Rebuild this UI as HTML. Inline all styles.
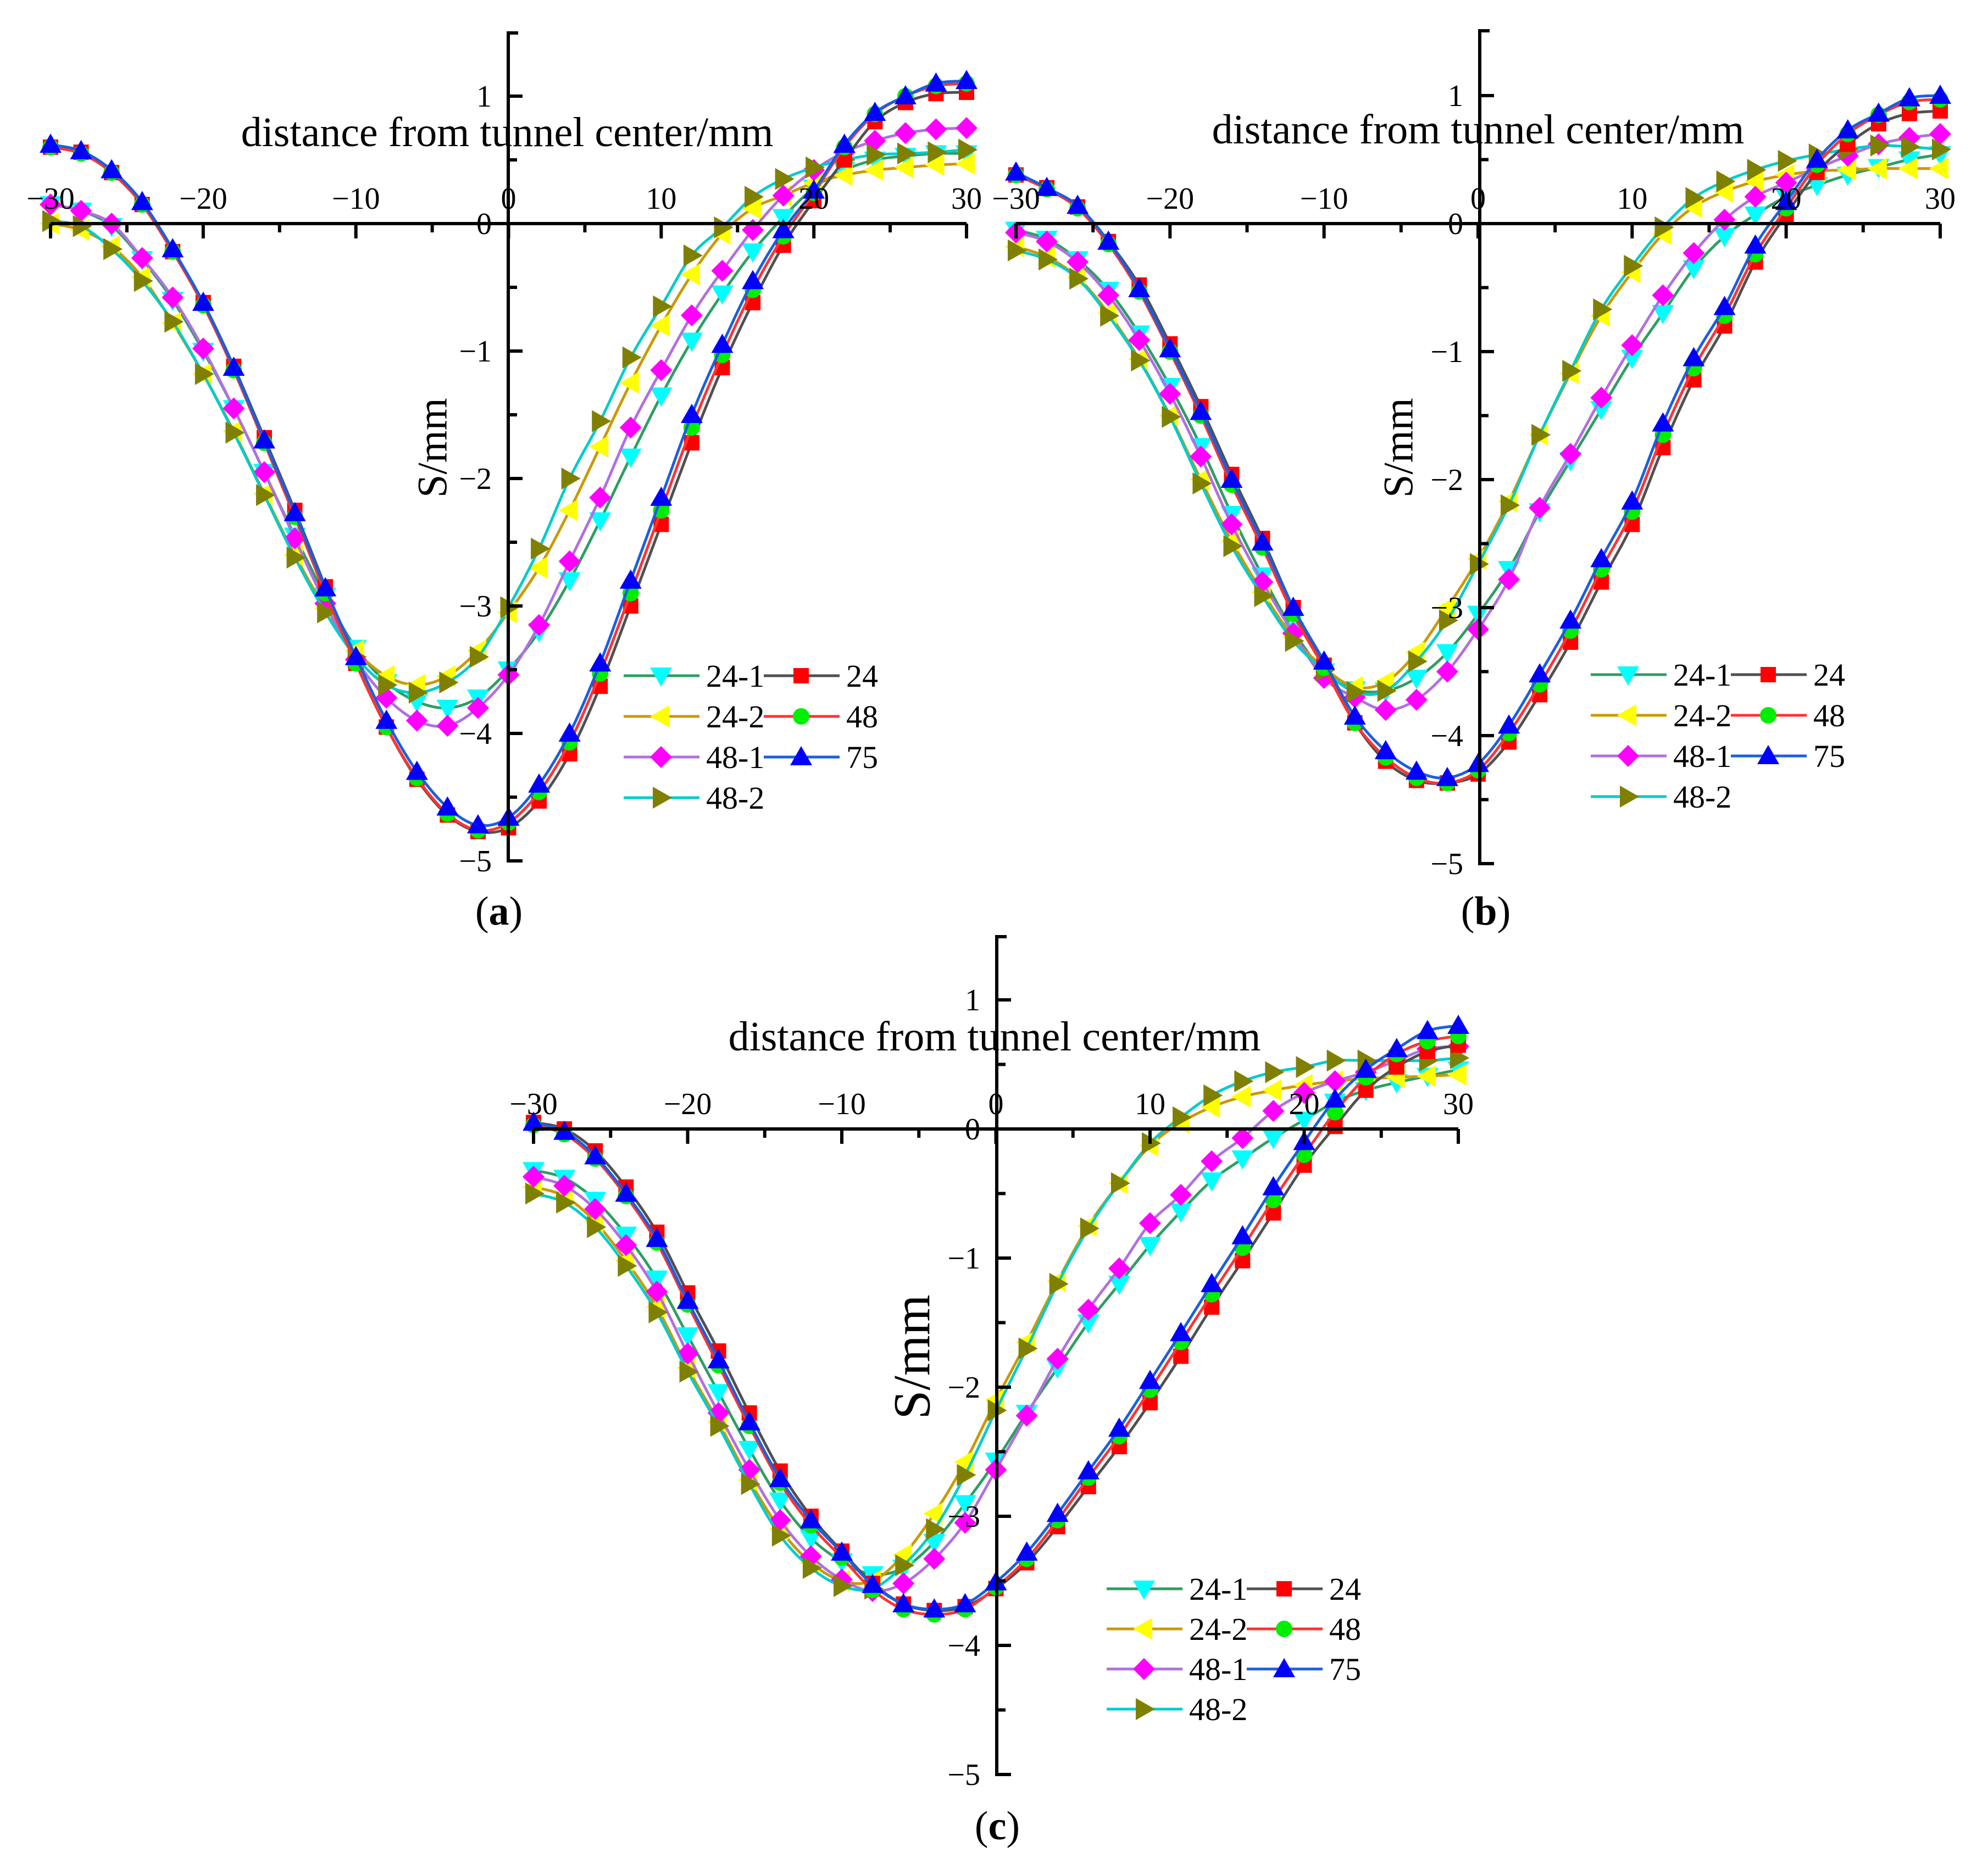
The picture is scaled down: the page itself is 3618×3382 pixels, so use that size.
<!DOCTYPE html>
<html><head><meta charset="utf-8">
<style>
html,body{margin:0;padding:0;background:#fff;}
svg{display:block;font-family:"Liberation Serif",serif;}
</style></head>
<body>
<svg id="fig" width="3618" height="3382" viewBox="0 0 3618 3382" xmlns="http://www.w3.org/2000/svg"></svg>
<script>
const xs = [-30,-28,-26,-24,-22,-20,-18,-16,-14,-12,-10,-8,-6,-4,-2,0,2,4,6,8,10,12,14,16,18,20,22,24,26,28,30];
const seriesNames = ["24-1","24-2","48-1","48-2","24","48","75"];
const xTicks = [-30,-20,-10,0,10,20,30];
const yTicks = [1,0,-1,-2,-3,-4,-5];

// panel (a)
const a_24_1 = [0.15,0.1,-0.02,-0.28,-0.6,-1.0,-1.45,-1.95,-2.45,-2.92,-3.33,-3.6,-3.75,-3.8,-3.72,-3.5,-3.2,-2.8,-2.33,-1.83,-1.35,-0.92,-0.55,-0.22,0.05,0.28,0.42,0.5,0.53,0.55,0.55];
const a_24_2 = [0.0,-0.05,-0.18,-0.42,-0.78,-1.18,-1.63,-2.12,-2.6,-3.02,-3.35,-3.55,-3.62,-3.55,-3.35,-3.05,-2.7,-2.25,-1.75,-1.25,-0.8,-0.4,-0.08,0.12,0.22,0.32,0.38,0.42,0.44,0.46,0.47];
const a_48_1 = [0.15,0.1,0.0,-0.27,-0.58,-0.98,-1.45,-1.95,-2.47,-2.98,-3.42,-3.72,-3.9,-3.94,-3.8,-3.54,-3.15,-2.65,-2.15,-1.6,-1.15,-0.72,-0.37,-0.05,0.22,0.42,0.56,0.65,0.71,0.74,0.75];
const a_48_2 = [0.02,-0.02,-0.2,-0.45,-0.77,-1.18,-1.64,-2.13,-2.62,-3.05,-3.4,-3.62,-3.68,-3.6,-3.4,-3.01,-2.55,-2.0,-1.55,-1.05,-0.65,-0.25,-0.03,0.21,0.35,0.44,0.5,0.54,0.55,0.56,0.58];
const a_24 = [0.6,0.56,0.4,0.15,-0.22,-0.62,-1.12,-1.68,-2.25,-2.85,-3.45,-3.95,-4.36,-4.64,-4.77,-4.74,-4.53,-4.16,-3.63,-3.0,-2.36,-1.72,-1.13,-0.62,-0.17,0.18,0.5,0.8,0.95,1.02,1.03];
const a_48 = [0.6,0.55,0.4,0.15,-0.22,-0.64,-1.15,-1.72,-2.3,-2.9,-3.45,-3.95,-4.35,-4.63,-4.76,-4.7,-4.46,-4.07,-3.53,-2.9,-2.25,-1.6,-1.03,-0.52,-0.1,0.24,0.6,0.86,1.0,1.08,1.1];
const a_75 = [0.62,0.57,0.42,0.17,-0.2,-0.62,-1.13,-1.7,-2.27,-2.86,-3.4,-3.9,-4.3,-4.58,-4.72,-4.66,-4.4,-4.0,-3.45,-2.8,-2.15,-1.5,-0.95,-0.45,-0.05,0.26,0.62,0.87,1.0,1.1,1.12];

// panel (b)
const b_24_1 = [-0.05,-0.12,-0.28,-0.52,-0.86,-1.27,-1.74,-2.27,-2.75,-3.18,-3.5,-3.64,-3.65,-3.55,-3.35,-3.05,-2.7,-2.25,-1.85,-1.45,-1.05,-0.7,-0.35,-0.1,0.07,0.21,0.3,0.38,0.44,0.5,0.54];
const b_24_2 = [-0.18,-0.26,-0.42,-0.7,-1.06,-1.5,-2.0,-2.48,-2.88,-3.23,-3.47,-3.62,-3.58,-3.35,-3.0,-2.62,-2.17,-1.65,-1.17,-0.72,-0.38,-0.08,0.13,0.25,0.33,0.38,0.41,0.42,0.43,0.43,0.43];
const b_48_1 = [-0.07,-0.14,-0.3,-0.56,-0.91,-1.33,-1.82,-2.35,-2.8,-3.2,-3.55,-3.7,-3.8,-3.72,-3.5,-3.17,-2.78,-2.22,-1.8,-1.36,-0.95,-0.56,-0.23,0.03,0.21,0.32,0.43,0.53,0.62,0.67,0.7];
const b_48_2 = [-0.21,-0.28,-0.43,-0.72,-1.07,-1.51,-2.03,-2.52,-2.91,-3.26,-3.49,-3.66,-3.65,-3.42,-3.1,-2.66,-2.2,-1.65,-1.15,-0.67,-0.33,-0.03,0.2,0.33,0.42,0.49,0.54,0.58,0.61,0.6,0.58];
const b_24 = [0.38,0.28,0.13,-0.14,-0.48,-0.94,-1.43,-1.96,-2.46,-3.0,-3.45,-3.9,-4.2,-4.35,-4.37,-4.3,-4.05,-3.68,-3.27,-2.8,-2.35,-1.75,-1.22,-0.8,-0.3,0.07,0.4,0.62,0.78,0.86,0.88];
const b_48 = [0.38,0.27,0.12,-0.16,-0.53,-1.0,-1.5,-2.04,-2.53,-3.05,-3.47,-3.9,-4.17,-4.33,-4.37,-4.27,-3.98,-3.6,-3.18,-2.7,-2.25,-1.65,-1.13,-0.72,-0.24,0.12,0.46,0.7,0.85,0.95,0.97];
const b_75 = [0.4,0.28,0.14,-0.14,-0.51,-0.98,-1.47,-2.0,-2.49,-3.0,-3.42,-3.85,-4.12,-4.28,-4.33,-4.22,-3.92,-3.52,-3.1,-2.62,-2.17,-1.56,-1.05,-0.65,-0.17,0.17,0.5,0.73,0.86,0.98,1.0];

// panel (c)
const c_24_1 = [-0.32,-0.38,-0.55,-0.82,-1.16,-1.6,-2.04,-2.48,-2.88,-3.17,-3.35,-3.45,-3.4,-3.2,-2.9,-2.57,-2.2,-1.85,-1.5,-1.2,-0.9,-0.64,-0.4,-0.23,-0.07,0.07,0.21,0.3,0.36,0.41,0.46];
const c_24_2 = [-0.45,-0.52,-0.72,-1.02,-1.38,-1.85,-2.27,-2.72,-3.1,-3.36,-3.5,-3.5,-3.3,-2.98,-2.58,-2.1,-1.65,-1.18,-0.75,-0.42,-0.13,0.05,0.17,0.25,0.3,0.34,0.37,0.39,0.4,0.41,0.42];
const c_48_1 = [-0.37,-0.44,-0.62,-0.9,-1.26,-1.74,-2.2,-2.64,-3.03,-3.31,-3.49,-3.58,-3.52,-3.33,-3.05,-2.64,-2.22,-1.78,-1.4,-1.08,-0.73,-0.51,-0.25,-0.07,0.14,0.28,0.37,0.44,0.53,0.62,0.64];
const c_48_2 = [-0.5,-0.57,-0.76,-1.06,-1.42,-1.88,-2.3,-2.75,-3.15,-3.4,-3.54,-3.56,-3.38,-3.1,-2.68,-2.18,-1.7,-1.2,-0.77,-0.42,-0.11,0.09,0.26,0.37,0.44,0.48,0.53,0.53,0.53,0.53,0.55];
const c_24 = [0.05,0.0,-0.17,-0.45,-0.8,-1.27,-1.72,-2.2,-2.65,-3.0,-3.27,-3.52,-3.68,-3.73,-3.7,-3.56,-3.36,-3.08,-2.77,-2.46,-2.12,-1.76,-1.38,-1.02,-0.65,-0.28,0.02,0.3,0.48,0.6,0.65];
const c_48 = [0.03,-0.04,-0.23,-0.52,-0.88,-1.36,-1.83,-2.3,-2.74,-3.07,-3.32,-3.57,-3.72,-3.76,-3.72,-3.55,-3.33,-3.03,-2.7,-2.38,-2.02,-1.65,-1.28,-0.92,-0.55,-0.2,0.13,0.4,0.58,0.68,0.72];
const c_75 = [0.05,-0.02,-0.21,-0.5,-0.85,-1.33,-1.79,-2.27,-2.71,-3.03,-3.28,-3.53,-3.68,-3.72,-3.68,-3.51,-3.28,-2.98,-2.65,-2.32,-1.95,-1.58,-1.2,-0.83,-0.45,-0.1,0.23,0.46,0.62,0.76,0.8];

const styles = [
  {line:"#2e9e64", mk:"#00ffff", shape:"down"},
  {line:"#cc9900", mk:"#ffff00", shape:"left"},
  {line:"#b070e0", mk:"#ff00ff", shape:"diamond"},
  {line:"#00cccc", mk:"#808000", shape:"right"},
  {line:"#505050", mk:"#ff0000", shape:"square"},
  {line:"#ff3333", mk:"#00ee00", shape:"circle"},
  {line:"#1a5fe0", mk:"#0000ff", shape:"up"}
];

const panels = [
  {id:"a", data:[a_24_1,a_24_2,a_48_1,a_48_2,a_24,a_48,a_75], x0:92, x1:1759, cx:925, y0:407, unit:232, top:60,
   title:[923,266], ylab:[786,815,76], sub:[908,1683], leg:[1135,1230,74]},
  {id:"b", data:[b_24_1,b_24_2,b_48_1,b_48_2,b_24,b_48,b_75], x0:1849, x1:3531, cx:2693, y0:407, unit:233, top:56,
   title:[2690,261], ylab:[2544,815,76], sub:[2704,1683], leg:[2895,1228,74]},
  {id:"c", data:[c_24_1,c_24_2,c_48_1,c_48_2,c_24,c_48,c_75], x0:971, x1:2654, cx:1814, y0:2055, unit:235, top:1705,
   title:[1810,1912], ylab:[1658,2470,95], sub:[1815,3348], leg:[2014,2892,73]}
];

const NS = "http://www.w3.org/2000/svg";
const svg = document.getElementById("fig");
function mk(tag, attrs, parent){ const e=document.createElementNS(NS,tag); for(const k in attrs) e.setAttribute(k,attrs[k]); (parent||svg).appendChild(e); return e; }

function marker(g, shape, x, y, color){
  const r=20; let e;
  if(shape==="circle"){ e=mk("circle",{cx:x,cy:y,r:15,fill:color},g); }
  else if(shape==="square"){ e=mk("rect",{x:x-14,y:y-14,width:28,height:28,fill:color},g); }
  else {
    let p;
    if(shape==="up") p=[[x,y-r],[x+r,y+r*0.75],[x-r,y+r*0.75]];
    else if(shape==="down") p=[[x,y+r],[x+r,y-r*0.75],[x-r,y-r*0.75]];
    else if(shape==="left") p=[[x-r,y],[x+r*0.75,y-r],[x+r*0.75,y+r]];
    else if(shape==="right") p=[[x+r,y],[x-r*0.75,y-r],[x-r*0.75,y+r]];
    else p=[[x,y-r],[x+r,y],[x,y+r],[x-r,y]];
    e=mk("polygon",{points:p.map(q=>q.join(",")).join(" "),fill:color},g);
  }
  
  
}

function smoothPath(pts){
  let d="M"+pts[0][0]+","+pts[0][1];
  for(let i=0;i<pts.length-1;i++){
    const p0=pts[Math.max(0,i-1)], p1=pts[i], p2=pts[i+1], p3=pts[Math.min(pts.length-1,i+2)];
    const c1=[p1[0]+(p2[0]-p0[0])/6, p1[1]+(p2[1]-p0[1])/6];
    const c2=[p2[0]-(p3[0]-p1[0])/6, p2[1]-(p3[1]-p1[1])/6];
    d+=" C"+c1[0].toFixed(1)+","+c1[1].toFixed(1)+" "+c2[0].toFixed(1)+","+c2[1].toFixed(1)+" "+p2[0].toFixed(1)+","+p2[1].toFixed(1);
  }
  return d;
}

panels.forEach(P=>{
  const g = mk("g",{});
  
  
  const X = v => P.x0 + (v+30)/60*(P.x1-P.x0);
  const Y = v => P.y0 - v*P.unit;
  const tf = "font-size:56px;fill:#000";

  P.data.forEach((arr,si)=>{
    const st=styles[si];
    const sg=mk("g",{},g);
    
    
    const pts=arr.map((v,i)=>[X(xs[i]),Y(v)]);
    const path=mk("path",{d:smoothPath(pts),fill:"none",stroke:st.line,"stroke-width":5},sg);
    
    
    pts.forEach(p=>marker(sg,st.shape,p[0],p[1],st.mk));
  });

  const ax=mk("g",{},g);
  
  
  const xl=mk("line",{x1:P.x0,y1:Y(0),x2:P.x1,y2:Y(0),stroke:"#000","stroke-width":6},ax);
  
  
  const yl=mk("path",{d:`M${P.cx+18},${P.top} H${P.cx} V${Y(-5)} H${P.cx+26}`,fill:"none",stroke:"#000","stroke-width":6},ax);
  
  
  for(let v=-30; v<=30; v+=5){
    const major = v%10===0;
    mk("line",{x1:X(v),y1:Y(0),x2:X(v),y2:Y(0)+(major?27:16),stroke:"#000","stroke-width":6},ax);
  }
  xTicks.forEach(v=>{
    const t=mk("text",{x:X(v),y:Y(0)-27,"text-anchor":"middle",style:tf},ax);
    t.textContent = v<0 ? "\u2212"+(-v) : String(v);
    
    
  });
  for(let v=1; v>=-5; v-=0.5){
    const major = Number.isInteger(v);
    if(v===-5) continue;
    mk("line",{x1:P.cx,y1:Y(v),x2:P.cx+(major?26:16),y2:Y(v),stroke:"#000","stroke-width":6},ax);
  }
  yTicks.forEach(v=>{
    const t=mk("text",{x:P.cx-30,y:Y(v)+19,"text-anchor":"end",style:tf},ax);
    t.textContent = v<0 ? "\u2212"+(-v) : String(v);
    
    
  });
  const tt=mk("text",{x:P.title[0],y:P.title[1],"text-anchor":"middle",style:"font-size:76px;fill:#000"},g);
  tt.textContent="distance from tunnel center/mm";
  
  
  const yt=mk("text",{x:0,y:0,"text-anchor":"middle",transform:`translate(${P.ylab[0]+P.ylab[2]*0.35},${P.ylab[1]}) rotate(-90)`,style:`font-size:${P.ylab[2]}px;fill:#000`},g);
  yt.textContent="S/mm";
  
  
  const sb=mk("text",{x:P.sub[0],y:P.sub[1],"text-anchor":"middle",style:"font-size:74px;fill:#000"},g);
  sb.innerHTML='(<tspan font-weight="bold">'+P.id+'</tspan>)';
  
  

  const lg=mk("g",{},g);
  
  
  const order=[[0,0,0],[1,0,1],[2,0,2],[3,0,3],[4,1,0],[5,1,1],[6,1,2]];
  order.forEach(o=>{
    const st=styles[o[0]];
    const bx=P.leg[0]+(o[1]?255:0), by=P.leg[1]+o[2]*P.leg[2];
    const eg=mk("g",{},lg);
    
    
    mk("line",{x1:bx,y1:by,x2:bx+138,y2:by,stroke:st.line,"stroke-width":5},eg);
    marker(eg,st.shape,bx+68,by,st.mk);
    const t=mk("text",{x:bx+150,y:by+20,style:"font-size:58px;fill:#000"},eg);
    t.textContent=seriesNames[o[0]];
  });
});
</script>
</body></html>
